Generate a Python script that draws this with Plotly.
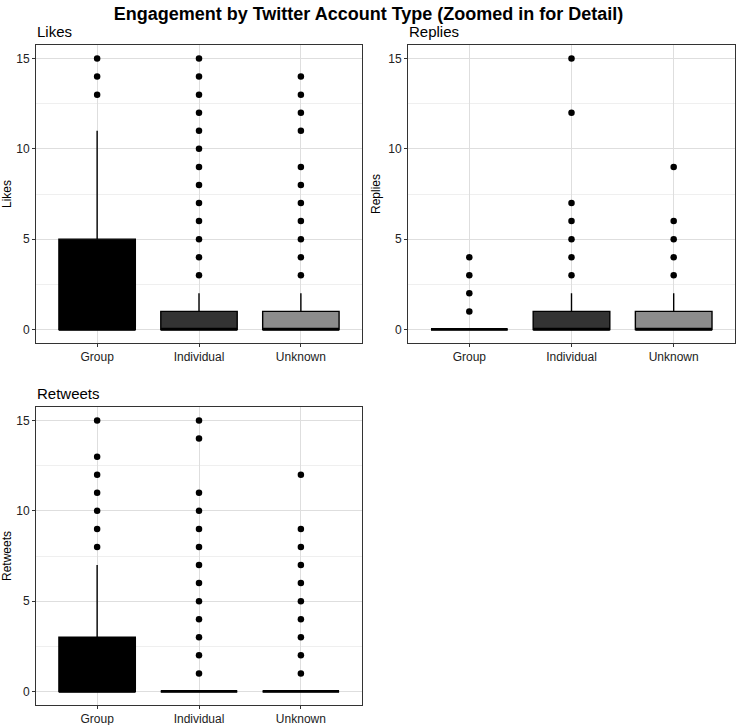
import plotly.graph_objects as go

# account types on the x axis and their box fills
categories = ["Group", "Individual", "Unknown"]
box_fills = ["#000000", "#333333", "#8c8c8c"]

metrics = ["Likes", "Replies", "Retweets"]

# Likes: box stats + outliers (clipped to 0-15 view)
likes_q1 = [0, 0, 0]
likes_median = [0, 0, 0]
likes_q3 = [5, 1, 1]
likes_lower = [0, 0, 0]
likes_upper = [11, 2, 2]
likes_outliers = [
    [13, 14, 15],
    [3, 4, 5, 6, 7, 8, 9, 10, 11, 12, 13, 14, 15],
    [3, 4, 5, 6, 7, 8, 9, 11, 12, 13, 14],
]

# Replies
replies_q1 = [0, 0, 0]
replies_median = [0, 0, 0]
replies_q3 = [0, 1, 1]
replies_lower = [0, 0, 0]
replies_upper = [0, 2, 2]
replies_outliers = [
    [1, 2, 3, 4],
    [3, 4, 5, 6, 7, 12, 15],
    [3, 4, 5, 6, 9],
]

# Retweets
retweets_q1 = [0, 0, 0]
retweets_median = [0, 0, 0]
retweets_q3 = [3, 0, 0]
retweets_lower = [0, 0, 0]
retweets_upper = [7, 0, 0]
retweets_outliers = [
    [8, 9, 10, 11, 12, 13, 15],
    [1, 2, 3, 4, 5, 6, 7, 8, 9, 10, 11, 14, 15],
    [1, 2, 3, 4, 5, 6, 7, 8, 9, 12],
]

stats = {
    "Likes": (likes_q1, likes_median, likes_q3, likes_lower, likes_upper, likes_outliers),
    "Replies": (replies_q1, replies_median, replies_q3, replies_lower, replies_upper, replies_outliers),
    "Retweets": (retweets_q1, retweets_median, retweets_q3, retweets_lower, retweets_upper, retweets_outliers),
}

W, H = 737, 725
FONT = "Liberation Sans, Arial, sans-serif"

# panel boxes in pixels (left, top, right, bottom)
panels = {
    "Likes": (36, 45, 362, 343),
    "Replies": (408, 45, 735, 343),
    "Retweets": (36, 407, 362, 705),
}
axis_ids = {"Likes": "", "Replies": "2", "Retweets": "3"}

fig = go.Figure()

for metric in metrics:
    q1, med, q3, lo, hi, outs = stats[metric]
    ax = axis_ids[metric]
    for i, cat in enumerate(categories):
        fig.add_trace(go.Box(
            x=[cat], q1=[q1[i]], median=[med[i]], q3=[q3[i]],
            lowerfence=[lo[i]], upperfence=[hi[i]],
            width=0.75, whiskerwidth=0,
            fillcolor=box_fills[i],
            line=dict(color="black", width=1.4),
            boxpoints=False, showlegend=False, hoverinfo="skip",
            xaxis="x" + ax, yaxis="y" + ax,
        ))
        # thicker median bar, ggplot style
        fig.add_trace(go.Box(
            x=[cat], q1=[med[i]], median=[med[i]], q3=[med[i]],
            lowerfence=[med[i]], upperfence=[med[i]],
            width=0.75, whiskerwidth=0,
            fillcolor="rgba(0,0,0,0)",
            line=dict(color="black", width=2.8),
            boxpoints=False, showlegend=False, hoverinfo="skip",
            xaxis="x" + ax, yaxis="y" + ax,
        ))
        fig.add_trace(go.Scatter(
            x=[cat] * len(outs[i]), y=outs[i], mode="markers",
            marker=dict(color="black", size=6.5),
            showlegend=False, hoverinfo="skip",
            xaxis="x" + ax, yaxis="y" + ax,
        ))

annotations = []
for metric in metrics:
    l, t, r, b = panels[metric]
    ax = axis_ids[metric]
    xdom = [l / W, r / W]
    ydom = [1 - b / H, 1 - t / H]
    fig.layout["xaxis" + ax] = dict(
        domain=xdom, anchor="y" + ax, type="category",
        categoryorder="array", categoryarray=categories,
        range=[-0.6, 2.6], automargin=False,
        showgrid=True, gridcolor="#dedede", gridwidth=1,
        showline=True, linecolor="#333333", linewidth=1, mirror=True,
        ticks="outside", ticklen=3, tickcolor="#333333",
        tickfont=dict(family=FONT, size=12, color="#222222"),
        zeroline=False, fixedrange=True,
    )
    fig.layout["yaxis" + ax] = dict(
        domain=ydom, anchor="x" + ax,
        range=[-0.75, 15.75], automargin=False,
        tickvals=[0, 5, 10, 15],
        showgrid=True, gridcolor="#dedede", gridwidth=1,
        minor=dict(tickvals=[2.5, 7.5, 12.5], showgrid=True, gridcolor="#efefef", gridwidth=1),
        showline=True, linecolor="#333333", linewidth=1, mirror=True,
        ticks="outside", ticklen=3, tickcolor="#333333",
        tickfont=dict(family=FONT, size=12, color="#222222"),
        title=dict(text=metric, font=dict(family=FONT, size=12, color="black"), standoff=5),
        zeroline=False, fixedrange=True,
    )
    # facet strip title
    annotations.append(dict(
        text=metric, x=xdom[0], y=ydom[1], xref="paper", yref="paper",
        xanchor="left", yanchor="bottom", yshift=3, xshift=-1, showarrow=False,
        font=dict(family=FONT, size=15, color="black"),
    ))

fig.update_layout(
    width=W, height=H,
    margin=dict(l=0, r=0, t=0, b=0, autoexpand=False),
    paper_bgcolor="white", plot_bgcolor="white",
    boxmode="overlay",
    title=dict(
        text="<b>Engagement by Twitter Account Type (Zoomed in for Detail)</b>",
        x=0.5, xanchor="center", y=1 - 14 / H, yanchor="middle",
        font=dict(family=FONT, size=18, color="black"),
        automargin=False,
    ),
    annotations=annotations,
)

# drop the browser's default body margin so the figure sits at the page corner
fig.write_html(
    "out.html",
    config={"displayModeBar": False},
    post_script="document.body.style.margin='0';",
)
